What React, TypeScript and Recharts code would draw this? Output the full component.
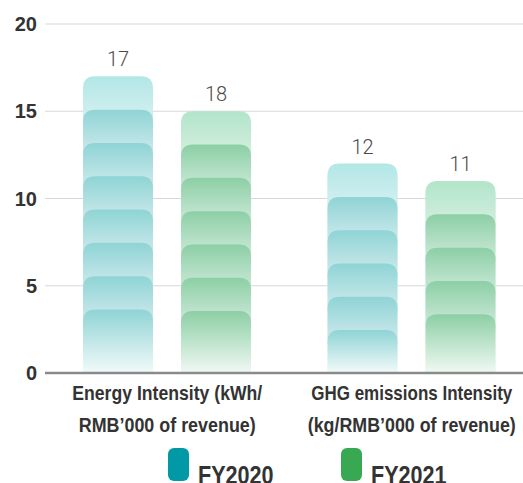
import React from 'react';
import { BarChart, Bar, XAxis, YAxis, CartesianGrid, Legend, LabelList } from 'recharts';

const categoryLines = [
  ['Energy Intensity (kWh/', 'RMB’000 of revenue)'],
  ['GHG emissions Intensity', '(kg/RMB’000 of revenue)'],
];
const fy2020 = [17, 12];
const fy2021 = [15, 11];
const fy2020Labels = ['17', '12'];
const fy2021Labels = ['18', '11'];
const yTicks = [0, 5, 10, 15, 20];

const data = categoryLines.map((lines, i) => ({
  name: lines.join(' '),
  fy2020: fy2020[i],
  fy2021: fy2021[i],
  fy2020Label: fy2020Labels[i],
  fy2021Label: fy2021Labels[i],
}));

// the reference uses a condensed bold face; squeeze Liberation Sans to match
const boldFont = "'Liberation Sans', Arial, sans-serif";
const lineWidths = [
  [190, 177],
  [201, 208],
];
const STEP = 33.3;
const RADIUS = 12;

const makeShape = (key: string) => (props: any) => {
  const { x, y, width, height } = props;
  if (!height || height <= 0) return <g />;
  const bottom = y + height;
  const n = Math.max(1, Math.floor(height / STEP));
  const segs = [];
  for (let i = 0; i < n; i++) {
    const top = y + i * STEP;
    const last = i === n - 1;
    const h = last ? bottom - top : STEP + RADIUS + 2;
    const grad = i === 0 && !last ? `${key}-top` : last ? `${key}-last` : `${key}-mid`;
    const r = Math.min(RADIUS, h / 2);
    const w = width;
    const path = `M${x},${top + h} L${x},${top + r} Q${x},${top} ${x + r},${top} L${x + w - r},${top} Q${x + w},${top} ${x + w},${top + r} L${x + w},${top + h} Z`;
    segs.push(<path key={i} d={path} fill={`url(#${grad})`} />);
  }
  return (
    <g>
      <rect x={x} y={y + RADIUS} width={width} height={height - RADIUS} fill={`url(#${key}-bg)`} />
      {segs}
    </g>
  );
};

const CategoryTick = (props: any) => {
  const { x, y, payload } = props;
  const lines = categoryLines[payload.index] || [payload.value];
  const widths = lineWidths[payload.index] || [];
  return (
    <g>
      {lines.map((l: string, i: number) => (
        <text
          key={i}
          x={x}
          y={y + 19 + i * 32}
          textAnchor="middle"
          fill="#333"
          fontFamily={boldFont}
          fontWeight="bold"
          fontSize={21}
          textLength={widths[i]}
          lengthAdjust="spacingAndGlyphs"
        >
          {l}
        </text>
      ))}
    </g>
  );
};

const legendItems = [
  { name: 'FY2020', color: '#0199a6' },
  { name: 'FY2021', color: '#38a852' },
];

const renderLegend = () => (
  <div style={{ display: 'flex', paddingLeft: 168, height: 55, alignItems: 'flex-start' }}>
    {legendItems.map((item, i) => (
      <div key={item.name} style={{ display: 'flex', alignItems: 'flex-start', width: i === 0 ? 173 : 110 }}>
        <div style={{ width: 21, height: 33, marginTop: 3, borderRadius: 6, background: item.color, flexShrink: 0 }} />
        <div
          style={{
            marginLeft: 9,
            marginTop: 15,
            fontFamily: boldFont,
            fontWeight: 'bold',
            fontSize: 26,
            lineHeight: '30px',
            color: '#333',
            transform: 'scaleX(0.83)',
            transformOrigin: 'left center',
            whiteSpace: 'nowrap',
          }}
        >
          {item.name}
        </div>
      </div>
    ))}
  </div>
);

const Gradients = () => (
  <defs>
    <linearGradient id="teal-top" x1="0" y1="0" x2="0" y2="1">
      <stop offset="0%" stopColor="#b2e7e6" />
      <stop offset="100%" stopColor="#d8f0f1" />
    </linearGradient>
    <linearGradient id="teal-mid" x1="0" y1="0" x2="0" y2="1">
      <stop offset="0%" stopColor="#8fd4d5" />
      <stop offset="100%" stopColor="#d2ebee" />
    </linearGradient>
    <linearGradient id="teal-last" x1="0" y1="0" x2="0" y2="1">
      <stop offset="0%" stopColor="#8fd4d5" />
      <stop offset="100%" stopColor="#f3fafa" />
    </linearGradient>
    <linearGradient id="teal-bg" x1="0" y1="0" x2="0" y2="1">
      <stop offset="0%" stopColor="#d6eff0" />
      <stop offset="100%" stopColor="#f0f9f9" />
    </linearGradient>
    <linearGradient id="green-top" x1="0" y1="0" x2="0" y2="1">
      <stop offset="0%" stopColor="#b2e5ca" />
      <stop offset="100%" stopColor="#d5efe0" />
    </linearGradient>
    <linearGradient id="green-mid" x1="0" y1="0" x2="0" y2="1">
      <stop offset="0%" stopColor="#8ccfa5" />
      <stop offset="100%" stopColor="#d0ebdc" />
    </linearGradient>
    <linearGradient id="green-last" x1="0" y1="0" x2="0" y2="1">
      <stop offset="0%" stopColor="#8ccfa5" />
      <stop offset="100%" stopColor="#f1f9f4" />
    </linearGradient>
    <linearGradient id="green-bg" x1="0" y1="0" x2="0" y2="1">
      <stop offset="0%" stopColor="#d5efe0" />
      <stop offset="100%" stopColor="#eff8f2" />
    </linearGradient>
  </defs>
);

const valueLabelStyle = { fontFamily: 'Roboto, sans-serif', fontWeight: 300, fontSize: 20, fill: '#4a4a4a' };

export default function App() {
  return (
    <div style={{ position: 'absolute', left: 0, top: 0, width: 523, height: 483, overflow: 'hidden', background: '#fff' }}>
      <BarChart
        width={534}
        height={500}
        data={data}
        margin={{ top: 24, right: 0, bottom: 0, left: 0 }}
        barSize={70}
        barGap={28}
      >
        <Gradients />
        <CartesianGrid vertical={false} stroke="#d8d8d8" strokeWidth={1.2} />
        <YAxis
          width={45}
          domain={[0, 20]}
          ticks={yTicks}
          axisLine={false}
          tickLine={false}
          tick={{ fill: '#333', fontFamily: boldFont, fontWeight: 'bold', fontSize: 20 }}
        />
        <XAxis
          dataKey="name"
          height={72}
          axisLine={{ stroke: '#8a8a8a', strokeWidth: 2.5 }}
          tickLine={false}
          interval={0}
          tick={<CategoryTick />}
        />
        <Legend verticalAlign="bottom" height={55} content={renderLegend} />
        <Bar dataKey="fy2020" name="FY2020" fill="#0199a6" shape={makeShape('teal')} isAnimationActive={false}>
          <LabelList dataKey="fy2020Label" position="top" offset={10} style={valueLabelStyle} />
        </Bar>
        <Bar dataKey="fy2021" name="FY2021" fill="#38a852" shape={makeShape('green')} isAnimationActive={false}>
          <LabelList dataKey="fy2021Label" position="top" offset={10} style={valueLabelStyle} />
        </Bar>
      </BarChart>
    </div>
  );
}
